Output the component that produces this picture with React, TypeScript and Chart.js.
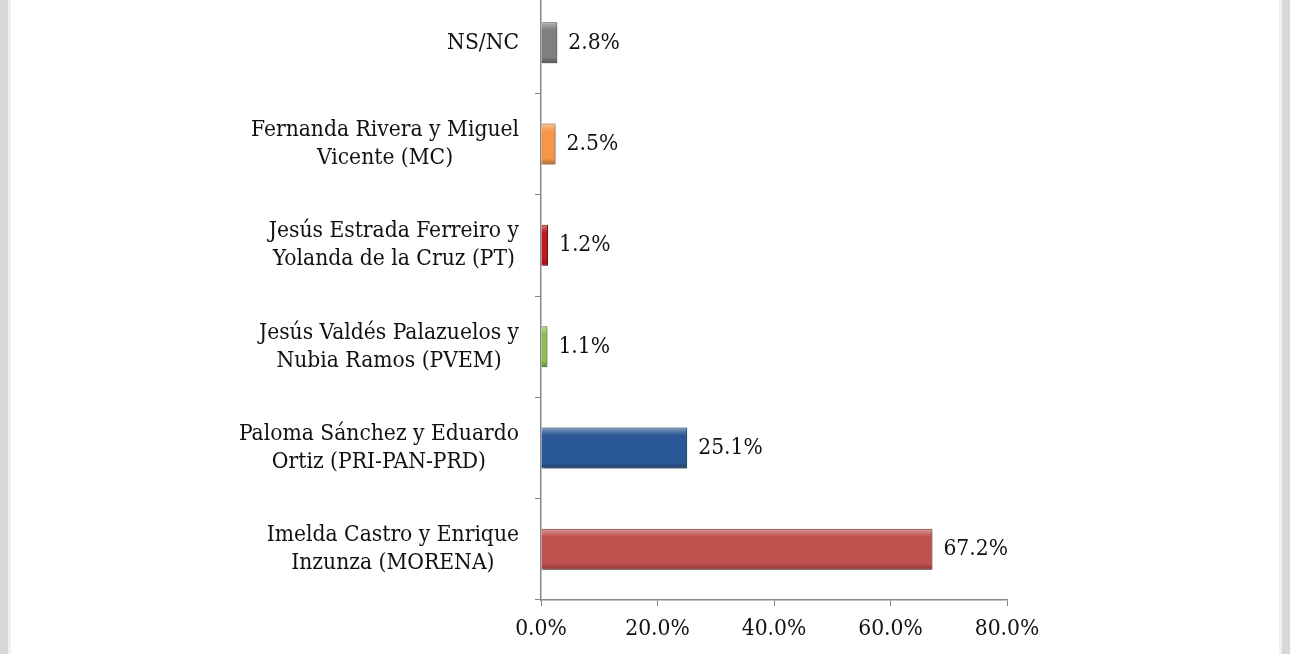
import { useEffect, useRef } from "react";
import { Chart, registerables, type ChartConfiguration, type Plugin } from "chart.js";

Chart.register(...registerables);

const categories: string[][] = [
  ["NS/NC"],
  ["Fernanda Rivera y Miguel", "Vicente (MC)"],
  ["Jesús Estrada Ferreiro y", "Yolanda de la Cruz (PT)"],
  ["Jesús Valdés Palazuelos y", "Nubia Ramos (PVEM)"],
  ["Paloma Sánchez y Eduardo", "Ortiz (PRI-PAN-PRD)"],
  ["Imelda Castro y Enrique", "Inzunza (MORENA)"],
];
const shares = [2.8, 2.5, 1.2, 1.1, 25.1, 67.2];
const barColors = ["#7f7f7f", "#f79646", "#c0171c", "#8cc04b", "#2a5896", "#c0504d"];
const xTickValues = [0, 20, 40, 60, 80];

const FONT = "'DejaVu Serif Condensed', 'Liberation Serif', serif";
const FONT_SIZE = 22.6;
const TEXT = "#111111";
const AXIS = "#878787";
const BAR_PCT = 0.45;
const CAT_PCT = 0.9;

function mix(hex: string, target: number, amount: number) {
  const n = parseInt(hex.slice(1), 16);
  const ch = [(n >> 16) & 255, (n >> 8) & 255, n & 255].map((c) =>
    Math.round(c + (target - c) * amount)
  );
  return `rgb(${ch[0]}, ${ch[1]}, ${ch[2]})`;
}

// draws the category labels: block right-aligned to the axis, lines centred within it
const categoryLabels: Plugin<"bar"> = {
  id: "categoryLabels",
  afterDraw(chart) {
    const { ctx, chartArea } = chart;
    const y = chart.scales.y;
    ctx.save();
    ctx.font = `${FONT_SIZE}px ${FONT}`;
    ctx.fillStyle = TEXT;
    ctx.textAlign = "center";
    ctx.textBaseline = "middle";
    categories.forEach((lines, i) => {
      const center = y.getPixelForValue(i);
      const widest = Math.max(...lines.map((l) => ctx.measureText(l).width));
      const cx = chartArea.left - 22 - widest / 2;
      const lineHeight = 28;
      const start = center - ((lines.length - 1) * lineHeight) / 2;
      lines.forEach((line, j) => ctx.fillText(line, cx, start + j * lineHeight));
    });
    ctx.restore();
  },
};

const valueLabels: Plugin<"bar"> = {
  id: "valueLabels",
  afterDatasetsDraw(chart) {
    const { ctx } = chart;
    const meta = chart.getDatasetMeta(0);
    ctx.save();
    ctx.font = `${FONT_SIZE}px ${FONT}`;
    ctx.fillStyle = TEXT;
    ctx.textAlign = "left";
    ctx.textBaseline = "middle";
    meta.data.forEach((bar, i) => {
      ctx.fillText(`${shares[i].toFixed(1)}%`, bar.x + 11, bar.y);
    });
    ctx.restore();
  },
};

const barShadow: Plugin<"bar"> = {
  id: "barShadow",
  beforeDatasetsDraw(chart) {
    const { ctx } = chart;
    ctx.save();
    ctx.shadowColor = "rgba(0,0,0,0.35)";
    ctx.shadowBlur = 4;
    ctx.shadowOffsetX = 1;
    ctx.shadowOffsetY = 2;
  },
  afterDatasetsDraw(chart) {
    chart.ctx.restore();
  },
};

export default function App() {
  const canvasRef = useRef<HTMLCanvasElement>(null);
  const chartRef = useRef<Chart<"bar", number[], string[]> | null>(null);

  useEffect(() => {
    const canvas = canvasRef.current;
    if (!canvas) {
      return;
    }

    if (chartRef.current) {
      chartRef.current.destroy();
    }

    const config: ChartConfiguration<"bar", number[], string[]> = {
      type: "bar",
      data: {
        labels: categories,
        datasets: [
          {
            data: shares,
            barPercentage: BAR_PCT,
            categoryPercentage: CAT_PCT,
            borderWidth: 1,
            borderSkipped: "start",
            borderColor: barColors.map((c) => mix(c, 0, 0.35)),
            backgroundColor: (context) => {
              const base = barColors[context.dataIndex] ?? "#888";
              const { chart } = context;
              const y = chart.scales.y;
              if (!y || context.type !== "data") {
                return base;
              }
              const center = y.getPixelForValue(context.dataIndex);
              const half = ((y.height / categories.length) * BAR_PCT * CAT_PCT) / 2;
              if (!Number.isFinite(center) || !Number.isFinite(half) || half <= 0) {
                return base;
              }
              const g = chart.ctx.createLinearGradient(0, center - half, 0, center + half);
              g.addColorStop(0, mix(base, 255, 0.45));
              g.addColorStop(0.12, mix(base, 255, 0.15));
              g.addColorStop(0.2, base);
              g.addColorStop(0.85, base);
              g.addColorStop(1, mix(base, 0, 0.3));
              return g;
            },
          },
        ],
      },
      options: {
        indexAxis: "y",
        animation: false,
        responsive: true,
        maintainAspectRatio: false,
        layout: {
          padding: { top: 12, right: 283, bottom: 0, left: 0 },
        },
        plugins: {
          legend: { display: false },
          tooltip: { enabled: false },
        },
        scales: {
          x: {
            min: 0,
            max: 80,
            afterFit: (scale) => {
              scale.height = 54;
            },
            afterBuildTicks: (scale) => {
              scale.ticks = xTickValues.map((value) => ({ value }));
            },
            grid: {
              drawOnChartArea: false,
              drawTicks: true,
              tickLength: 6,
              color: AXIS,
            },
            border: { color: AXIS, width: 1.5 },
            ticks: {
              padding: 10,
              color: TEXT,
              font: { family: FONT, size: FONT_SIZE },
              callback: (value) => `${Number(value).toFixed(1)}%`,
            },
          },
          y: {
            afterFit: (scale) => {
              scale.width = 541;
            },
            grid: {
              drawOnChartArea: false,
              drawTicks: true,
              tickLength: 6,
              color: AXIS,
            },
            border: { color: AXIS, width: 1.5 },
            ticks: { display: false },
          },
        },
      },
      plugins: [barShadow, valueLabels, categoryLabels],
    };

    chartRef.current = new Chart(canvas, config);

    return () => {
      chartRef.current?.destroy();
      chartRef.current = null;
    };
  }, []);

  return (
    <div style={{ position: "fixed", inset: 0, width: 1290, height: 654, background: "#fff", overflow: "hidden" }}>
      <div style={{ position: "absolute", left: 0, top: -20, width: 1290, height: 674 }}>
        <canvas ref={canvasRef} />
      </div>
      <div style={{ position: "absolute", left: 0, top: 0, width: 8, height: 654, background: "#d8d8d8", borderRight: "3px solid #efefef" }} />
      <div style={{ position: "absolute", left: 1279, top: 0, width: 8, height: 654, background: "#d8d8d8", borderLeft: "3px solid #efefef" }} />
    </div>
  );
}
